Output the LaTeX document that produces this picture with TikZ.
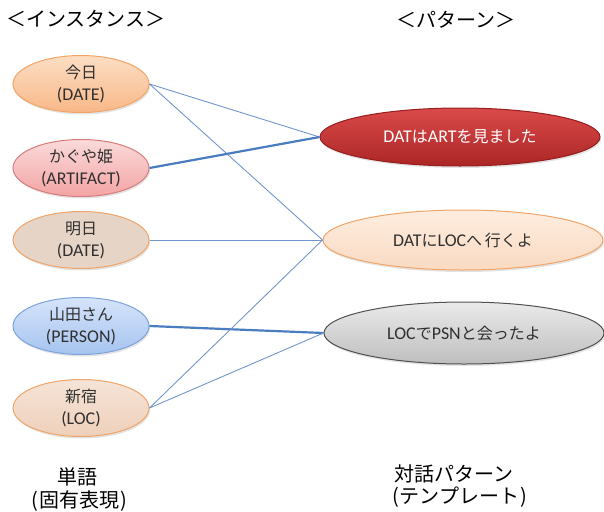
\documentclass[tikz,border=0pt]{standalone}
\usepackage{fontspec}
\setmainfont{Carlito}[Scale=1.12]
\newfontfamily\jpf{Noto Sans CJK JP}
\usetikzlibrary{shapes.geometric,shadows}
\newcommand\J[1]{{\jpf #1}}
\definecolor{txt}{HTML}{303030}
\definecolor{lineblue}{HTML}{7196CC}
\definecolor{linedark}{HTML}{4A7CC0}
\begin{document}
\begin{tikzpicture}[x=1pt,y=-1pt,
  blob/.style={ellipse, draw, line width=1pt, inner sep=0pt, align=center, text=txt,
    font=\fontsize{16}{22}\selectfont,
    drop shadow={opacity=0.22, shadow xshift=1pt, shadow yshift=-2pt}},
  inst/.style={blob, minimum width=136pt, minimum height=57pt},
  pat/.style={blob, minimum width=280pt, minimum height=58pt},
  link/.style={draw=lineblue, line width=0.9pt},
  strong/.style={draw=linedark, line width=2.2pt},
  head/.style={anchor=west, inner sep=0pt, font=\jpf\fontsize{20}{24}\selectfont},
  foot/.style={inner sep=0pt, font=\jpf\fontsize{20}{24}\selectfont}]
\useasboundingbox (0,0) rectangle (604,511);

\node[head] (h1) at (6,19) {＜インスタンス＞};
\node[head] (h2) at (396,20) {＜パターン＞};

\node[inst, top color={rgb,255:red,252;green,222;blue,196}, bottom color={rgb,255:red,248;green,184;blue,136}, draw={rgb,255:red,242;green,164;blue,103}] (kyo) at (81,84) {\J{今日}\\(DATE)};
\node[inst, top color={rgb,255:red,250;green,218;blue,218}, bottom color={rgb,255:red,244;green,164;blue,164}, draw={rgb,255:red,214;green,124;blue,124}] (kag) at (81,168) {\J{かぐや姫}\\(ARTIFACT)};
\node[inst, fill={rgb,255:red,230;green,212;blue,198}, draw={rgb,255:red,240;green,164;blue,104}] (asu) at (81,240) {\J{明日}\\(DATE)};
\node[inst, top color={rgb,255:red,214;green,228;blue,250}, bottom color={rgb,255:red,166;green,196;blue,240}, draw={rgb,255:red,126;green,162;blue,218}] (yam) at (81,326) {\J{山田さん}\\(PERSON)};
\node[inst, top color={rgb,255:red,246;green,228;blue,216}, bottom color={rgb,255:red,238;green,208;blue,186}, draw={rgb,255:red,240;green,164;blue,104}] (shi) at (81,408) {\J{新宿}\\(LOC)};

\node[pat, top color={rgb,255:red,218;green,74;blue,74}, bottom color={rgb,255:red,172;green,38;blue,38}, draw={rgb,255:red,150;green,30;blue,30}, text=white] (p1) at (460,137) {DAT\J{は}ART\J{を見ました}};
\node[pat, minimum height=60pt, top color={rgb,255:red,253;green,237;blue,224}, bottom color={rgb,255:red,250;green,218;blue,194}, draw={rgb,255:red,242;green,164;blue,103}] (p2) at (463,240) {DAT\J{に}LOC\J{へ\,行くよ}};
\node[pat, minimum height=62pt, top color={rgb,255:red,234;green,234;blue,234}, bottom color={rgb,255:red,190;green,190;blue,190}, draw={rgb,255:red,80;green,80;blue,80}] (p3) at (464,333) {LOC\J{で}PSN\J{と会ったよ}};

\draw[link] (kyo.east) -- (p1.west);
\draw[link] (kyo.east) -- (p2.west);
\draw[strong] (kag.east) -- (p1.west);
\draw[link] (asu.east) -- (p2.west);
\draw[strong] (yam.east) -- (p3.west);
\draw[link] (shi.east) -- (p2.west);
\draw[link] (shi.east) -- (p3.west);

\node[foot] (f1) at (77,477) {単語};
\node[foot] (f2) at (79,501) {(\kern1pt 固有表現\kern1pt)};
\node[foot, anchor=west] (f3) at (394,474) {対話パターン};
\node[foot, anchor=west] (f4) at (392,497) {(\kern1pt テンプレート\kern1pt)};
\end{tikzpicture}
\end{document}
